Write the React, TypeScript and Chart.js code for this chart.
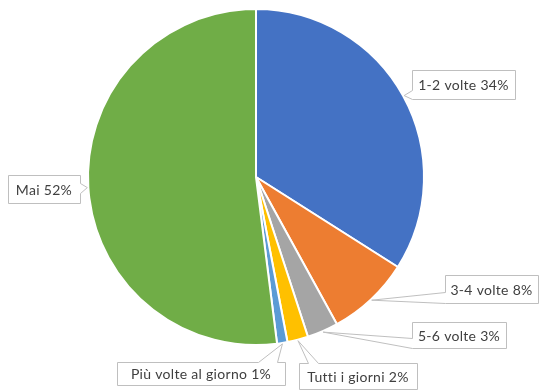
import React, { useEffect, useRef } from "react";
import { Chart, registerables } from "chart.js";

Chart.register(...registerables);

const categories = ["1-2 volte", "3-4 volte", "5-6 volte", "Tutti i giorni", "Più volte al giorno", "Mai"];
const values = [34, 8, 3, 2, 1, 52];
const percentLabels = ["34%", "8%", "3%", "2%", "1%", "52%"];
const colors = ["#4472C4", "#ED7D31", "#A5A5A5", "#FFC000", "#5B9BD5", "#70AD47"];

// callout box layout (position only), one per category
type Box = { x: number; y: number; w: number; h: number; edge: "left" | "right" | "top"; a: number; b: number };
const boxes: Box[] = [
  { x: 412, y: 70, w: 103, h: 29, edge: "left", a: 90, b: 99 },
  { x: 445, y: 275, w: 93, h: 28, edge: "left", a: 292, b: 303 },
  { x: 412, y: 322, w: 94, h: 26, edge: "left", a: 338, b: 348 },
  { x: 299, y: 363, w: 118, h: 26, edge: "top", a: 308, b: 318 },
  { x: 117, y: 362, w: 168, h: 23, edge: "top", a: 258, b: 277 },
  { x: 8, y: 175, w: 72, h: 28, edge: "right", a: 183, b: 193 },
];

const calloutPlugin = {
  id: "callouts",
  afterDraw(chart: any) {
    const ctx = chart.ctx;
    const meta = chart.getDatasetMeta(0);
    meta.data.forEach((arc: any, i: number) => {
      const p = arc.getProps(["x", "y", "outerRadius", "startAngle", "endAngle"], true);
      const mid = (p.startAngle + p.endAngle) / 2;
      const tx = p.x + Math.cos(mid) * (p.outerRadius + 1);
      const ty = p.y + Math.sin(mid) * (p.outerRadius + 1);
      const b = boxes[i];
      const L = b.x + 0.5, T = b.y + 0.5, R = b.x + b.w + 0.5, B = b.y + b.h + 0.5;
      ctx.save();
      ctx.beginPath();
      ctx.moveTo(L, T);
      if (b.edge === "top") {
        ctx.lineTo(b.a + 0.5, T);
        ctx.lineTo(tx, ty);
        ctx.lineTo(b.b + 0.5, T);
      }
      ctx.lineTo(R, T);
      if (b.edge === "right") {
        ctx.lineTo(R, b.a + 0.5);
        ctx.lineTo(tx, ty);
        ctx.lineTo(R, b.b + 0.5);
      }
      ctx.lineTo(R, B);
      ctx.lineTo(L, B);
      if (b.edge === "left") {
        ctx.lineTo(L, b.b + 0.5);
        ctx.lineTo(tx, ty);
        ctx.lineTo(L, b.a + 0.5);
      }
      ctx.closePath();
      ctx.fillStyle = "#FFFFFF";
      ctx.fill();
      ctx.lineWidth = 1;
      ctx.strokeStyle = "#BFBFBF";
      ctx.stroke();
      ctx.fillStyle = "#404040";
      ctx.font = "14px Lato";
      (ctx as any).letterSpacing = "0.3px";
      ctx.textAlign = "center";
      ctx.textBaseline = "middle";
      ctx.fillText(categories[i] + " " + percentLabels[i], b.x + b.w / 2, b.y + b.h / 2 + 1);
      ctx.restore();
    });
  },
};

export default function App() {
  const ref = useRef<HTMLCanvasElement | null>(null);
  useEffect(() => {
    if (!ref.current) return;
    const chart = new Chart(ref.current, {
      type: "pie",
      data: {
        labels: categories,
        datasets: [
          {
            data: values,
            backgroundColor: colors,
            borderColor: "#FFFFFF",
            borderWidth: 2,
          },
        ],
      },
      options: {
        responsive: false,
        animation: false,
        layout: { padding: { left: 87, top: 8, right: 114, bottom: 44 } },
        plugins: { legend: { display: false }, tooltip: { enabled: false } },
      },
      plugins: [calloutPlugin],
    });
    return () => chart.destroy();
  }, []);
  return (
    <div style={{ position: "absolute", left: 0, top: 0, width: 539, height: 390, background: "#fff" }}>
      <canvas ref={ref} width={539} height={390} style={{ width: 539, height: 390 }} />
    </div>
  );
}
